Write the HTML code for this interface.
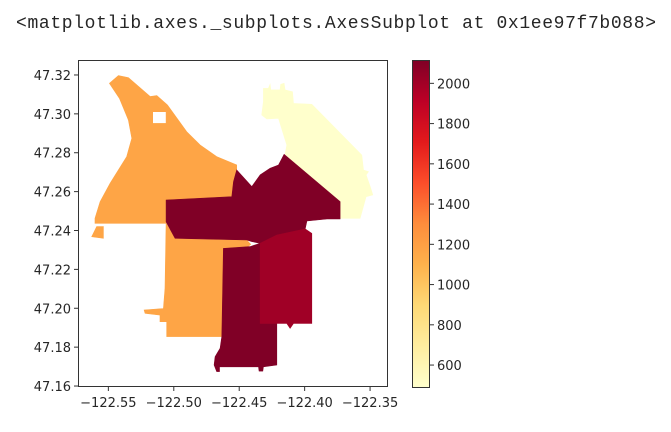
<!DOCTYPE html>
<html><head><meta charset="utf-8"><style>
body{margin:0;background:#fff;width:671px;height:427px;overflow:hidden}
text{font-family:"DejaVu Sans","Liberation Sans",sans-serif;fill:#262626}
</style></head><body>
<svg id="c" width="671" height="427">
<text x="16" y="28" style="font-family:'Liberation Mono',monospace;font-size:18px" textLength="640">&lt;matplotlib.axes._subplots.AxesSubplot at 0x1ee97f7b088&gt;</text>
</svg>
<script>
const xTicks=[-122.55,-122.50,-122.45,-122.40,-122.35];
const yTicks=[47.16,47.18,47.20,47.22,47.24,47.26,47.28,47.30,47.32];
const cbTicks=[600,800,1000,1200,1400,1600,1800,2000];
const regionNames=['north-west-district','west-district','north-east-district','central-district','south-central-district','east-district'];
const regionValues=[1170,1170,486,2116,2116,2010];
const regionRings=[
[[[-122.5492,47.3157],[-122.5423,47.3197],[-122.5347,47.3186],[-122.5181,47.3089],[-122.5130,47.3094],[-122.5049,47.3046],[-122.4901,47.2908],[-122.4799,47.2840],[-122.4672,47.2780],[-122.4519,47.2737],[-122.4519,47.2711],[-122.4544,47.2651],[-122.4557,47.2574],[-122.5059,47.2557],[-122.5059,47.2437],[-122.5602,47.2437],[-122.5602,47.2463],[-122.5563,47.2548],[-122.5487,47.2643],[-122.5360,47.2780],[-122.5321,47.2874],[-122.5347,47.2968],[-122.5416,47.3080]],
 [[-122.5161,47.3011],[-122.5059,47.3011],[-122.5059,47.2951],[-122.5161,47.2951]],
 [[-122.5627,47.2368],[-122.5538,47.2360],[-122.5538,47.2420],[-122.5589,47.2420]]],
[[[-122.5059,47.2437],[-122.4990,47.2360],[-122.4442,47.2351],[-122.4412,47.2329],[-122.4442,47.2312],[-122.4621,47.2305],[-122.4633,47.1854],[-122.5054,47.1854],[-122.5054,47.1931],[-122.5105,47.1931],[-122.5105,47.1965],[-122.5219,47.1974],[-122.5227,47.1991],[-122.5079,47.1999],[-122.5067,47.2102]]],
[[[-122.4315,47.3131],[-122.4277,47.3131],[-122.4264,47.3152],[-122.4259,47.3123],[-122.4188,47.3123],[-122.4183,47.3152],[-122.4157,47.3157],[-122.4149,47.3123],[-122.4093,47.3114],[-122.4085,47.3054],[-122.3945,47.3049],[-122.3563,47.2788],[-122.3550,47.2711],[-122.3512,47.2703],[-122.3530,47.2686],[-122.3499,47.2626],[-122.3479,47.2583],[-122.3530,47.2574],[-122.3576,47.2463],[-122.3729,47.2463],[-122.3734,47.2548],[-122.4149,47.2792],[-122.4136,47.2840],[-122.4200,47.2977],[-122.4289,47.2974],[-122.4328,47.2994],[-122.4315,47.3063]]],
[[[-122.4519,47.2711],[-122.4404,47.2626],[-122.4340,47.2686],[-122.4264,47.2720],[-122.4200,47.2737],[-122.4157,47.2792],[-122.3729,47.2548],[-122.3729,47.2459],[-122.3830,47.2459],[-122.3983,47.2449],[-122.3996,47.2408],[-122.4136,47.2385],[-122.4340,47.2334],[-122.4404,47.2343],[-122.4442,47.2351],[-122.4990,47.2360],[-122.5059,47.2445],[-122.5059,47.2557],[-122.4557,47.2574],[-122.4544,47.2651]]],
[[[-122.4621,47.2308],[-122.4417,47.2317],[-122.4340,47.2334],[-122.4340,47.1922],[-122.4213,47.1922],[-122.4213,47.1708],[-122.4315,47.1699],[-122.4320,47.1677],[-122.4348,47.1677],[-122.4353,47.1699],[-122.4651,47.1699],[-122.4651,47.1674],[-122.4672,47.1674],[-122.4692,47.1708],[-122.4684,47.1751],[-122.4646,47.1794],[-122.4633,47.1854]]],
[[[-122.4340,47.2334],[-122.4213,47.2377],[-122.3996,47.2408],[-122.3945,47.2385],[-122.3945,47.1922],[-122.4085,47.1922],[-122.4111,47.1897],[-122.4136,47.1922],[-122.4340,47.1922]]]
];
const X0=78,X1=388,Y0=60,Y1=387,LON0=-122.5732,LON1=-122.3363,LAT0=47.1595,LAT1=47.3277;
const VMIN=486,VMAX=2116,CB0=60,CB1=388;
const sx=v=>X0+(v-LON0)/(LON1-LON0)*(X1-X0);
const sy=v=>Y1-(v-LAT0)/(LAT1-LAT0)*(Y1-Y0);
const cy=v=>CB1-(v-VMIN)/(VMAX-VMIN)*(CB1-CB0);
const stops=['#ffffcc','#ffeda0','#fed976','#feb24c','#fd8d3c','#fc4e2a','#e31a1c','#bd0026','#800026'];
function hx(h){return [1,3,5].map(i=>parseInt(h.substr(i,2),16));}
function cmap(t){t=Math.max(0,Math.min(1,t));const p=t*8,i=Math.min(7,Math.floor(p)),f=p-i;const a=hx(stops[i]),b=hx(stops[i+1]);return 'rgb('+a.map((v,k)=>Math.round(v+(b[k]-v)*f)).join(',')+')';}
const NS='http://www.w3.org/2000/svg',svg=document.getElementById('c');
function mk(t,at,p){const e=document.createElementNS(NS,t);for(const k in at)e.setAttribute(k,at[k]);(p||svg).appendChild(e);return e;}
const defs=mk('defs',{});const lg=mk('linearGradient',{id:'cbg',x1:0,y1:1,x2:0,y2:0},defs);
stops.forEach((s,i)=>mk('stop',{offset:i/8,'stop-color':s},lg));
const frame=mk('rect',{x:X0,y:Y0,width:X1-X0,height:Y1-Y0,fill:'#fff'});


regionRings.forEach((rings,i)=>{
 const d=rings.map(r=>'M'+r.map(p=>sx(p[0]).toFixed(1)+','+sy(p[1]).toFixed(1)).join('L')+'Z').join('');
 const c=cmap((regionValues[i]-VMIN)/(VMAX-VMIN));
 const e=mk('path',{d:d,fill:c,stroke:c,'stroke-width':0.6,'fill-rule':'evenodd'});
 
 
});
const bd=mk('rect',{x:X0+.5,y:Y0+.5,width:X1-X0-1,height:Y1-Y0-1,fill:'none',stroke:'#333','stroke-width':1});


xTicks.forEach(v=>{const x=sx(v);
 const l=mk('line',{x1:x,x2:x,y1:Y1,y2:Y1+4,stroke:'#333'});
 
 
 const t=mk('text',{x:x,y:Y1+20,'text-anchor':'middle','font-size':13});t.textContent='\u2212'+Math.abs(v).toFixed(2);
 
 });
yTicks.forEach(v=>{const y=sy(v);
 const l=mk('line',{x1:X0-4,x2:X0,y1:y,y2:y,stroke:'#333'});
 
 
 const t=mk('text',{x:X0-7,y:y+5,'text-anchor':'end','font-size':13});t.textContent=v.toFixed(2);
 
 });
const cb=mk('rect',{x:412.5,y:CB0+.5,width:17,height:CB1-CB0-1,fill:'url(#cbg)',stroke:'#333'});


cbTicks.forEach(v=>{const y=cy(v);
 const l=mk('line',{x1:430,x2:434,y1:y,y2:y,stroke:'#333'});
 
 
 const t=mk('text',{x:437,y:y+5,'font-size':13});t.textContent=v;
 
 });
</script>
</body></html>
